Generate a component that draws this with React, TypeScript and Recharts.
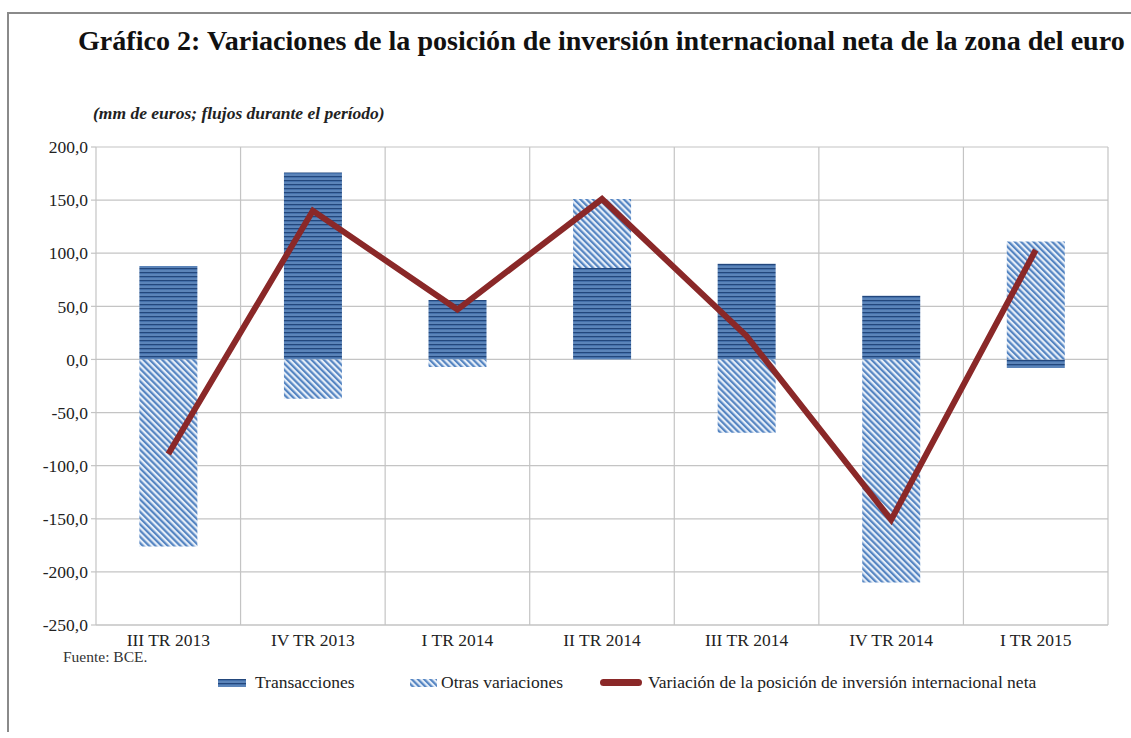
import React from 'react';
import {
  ComposedChart, Bar, Line, XAxis, YAxis, CartesianGrid, Legend,
} from 'recharts';

const categories = ['III TR 2013', 'IV TR 2013', 'I TR 2014', 'II TR 2014', 'III TR 2014', 'IV TR 2014', 'I TR 2015'];
const transacciones = [88, 176, 56, 86, 90, 60, -8];
const otrasVariaciones = [-176, -37, -7, 65, -69, -210, 111];
const variacionNeta = [-89, 140, 47, 151, 22, -151, 103];
const yTicks = [-250, -200, -150, -100, -50, 0, 50, 100, 150, 200];

const data = categories.map((c, i) => ({
  name: c,
  trans: transacciones[i],
  otras: otrasVariaciones[i],
  neta: variacionNeta[i],
}));

const SERIF = '"Liberation Serif", "Times New Roman", serif';
const GRID = '#c4c4c4';
const LINE_COLOR = '#8a2828';

const fmt = (v: number) => v.toFixed(1).replace('.', ',');

const Patterns = () => (
  <svg width={0} height={0} style={{ position: 'absolute' }}>
    <defs>
      <pattern id="pTrans" patternUnits="userSpaceOnUse" width={8} height={4}>
        <rect x={0} y={0} width={8} height={4} fill="#4470aa" />
        <rect x={0} y={0} width={8} height={1} fill="#23477c" />
        <rect x={0} y={2.5} width={8} height={1} fill="#7197c8" />
      </pattern>
      <pattern id="pOtras" patternUnits="userSpaceOnUse" width={4.4} height={8} patternTransform="rotate(-45)">
        <rect x={0} y={0} width={4.4} height={8} fill="#e6eef8" />
        <rect x={0} y={0} width={2.2} height={8} fill="#5585c2" />
      </pattern>
    </defs>
  </svg>
);

const renderLegend = () => (
  <div style={{ position: 'relative', width: 1131, height: 24, fontFamily: SERIF, fontSize: 17.5, color: '#222' }}>
    <svg style={{ position: 'absolute', left: 218, top: 7 }} width={28} height={8}>
      <rect x={0} y={0} width={28} height={8} fill="url(#pTrans)" />
    </svg>
    <span style={{ position: 'absolute', left: 255, top: 0, whiteSpace: 'nowrap' }}>Transacciones</span>
    <svg style={{ position: 'absolute', left: 410, top: 7 }} width={27} height={8}>
      <rect x={0} y={0} width={27} height={8} fill="url(#pOtras)" />
    </svg>
    <span style={{ position: 'absolute', left: 441, top: 0, whiteSpace: 'nowrap' }}>Otras variaciones</span>
    <svg style={{ position: 'absolute', left: 600, top: 7 }} width={42} height={8}>
      <rect x={0} y={0} width={42} height={7} rx={3.5} fill={LINE_COLOR} />
    </svg>
    <span style={{ position: 'absolute', left: 648, top: 0, whiteSpace: 'nowrap' }}>Variación de la posición de inversión internacional neta</span>
  </div>
);

export default function App() {
  return (
    <div style={{ position: 'absolute', left: 0, top: 0, width: 1131, height: 738, background: '#fff', overflow: 'hidden' }}>
      <Patterns />
      <div style={{ position: 'absolute', left: 8, top: 12, width: 1123, height: 2, background: '#8a8a8a' }} />
      <div style={{ position: 'absolute', left: 7, top: 12, width: 2, height: 720, background: '#8a8a8a' }} />
      <div style={{ position: 'absolute', left: 78, top: 25, whiteSpace: 'nowrap', fontFamily: SERIF, fontWeight: 'bold', fontSize: 28.1, color: '#111' }}>
        Gráfico 2: Variaciones de la posición de inversión internacional neta de la zona del euro
      </div>
      <div style={{ position: 'absolute', left: 93, top: 103, whiteSpace: 'nowrap', fontFamily: SERIF, fontWeight: 'bold', fontStyle: 'italic', fontSize: 17.5, color: '#222' }}>
        (mm de euros; flujos durante el período)
      </div>
      <div style={{ position: 'absolute', left: 63, top: 648, whiteSpace: 'nowrap', fontFamily: SERIF, fontSize: 15.5, color: '#333' }}>
        Fuente: BCE.
      </div>
      <div style={{ position: 'absolute', left: 0, top: 0 }}>
        <ComposedChart
          width={1131}
          height={738}
          data={data}
          stackOffset="sign"
          barCategoryGap="30%"
          margin={{ top: 147, right: 23, bottom: 83, left: 0 }}
        >
          <CartesianGrid
            stroke={GRID}
            strokeWidth={1.2}
            verticalCoordinatesGenerator={(props: any) => {
              const off = props.offset;
              const n = categories.length;
              const arr: number[] = [];
              for (let i = 1; i <= n; i++) arr.push(off.left + (off.width * i) / n);
              return arr;
            }}
          />
          <XAxis
            dataKey="name"
            height={30}
            tickLine={false}
            tickSize={0}
            tickMargin={9}
            axisLine={{ stroke: GRID, strokeWidth: 1.2 }}
            tick={{ fontFamily: SERIF, fontSize: 17.5, fill: '#222' }}
            interval={0}
          />
          <YAxis
            width={96}
            domain={[-250, 200]}
            ticks={yTicks}
            tickFormatter={fmt}
            tickSize={5}
            tickMargin={3}
            allowDataOverflow
            tickLine={{ stroke: GRID, strokeWidth: 1.2 }}
            axisLine={{ stroke: GRID, strokeWidth: 1.2 }}
            tick={{ fontFamily: SERIF, fontSize: 17.5, fill: '#222' }}
          />
          <Bar dataKey="trans" name="Transacciones" stackId="a" fill="url(#pTrans)" isAnimationActive={false} />
          <Bar dataKey="otras" name="Otras variaciones" stackId="a" fill="url(#pOtras)" isAnimationActive={false} />
          <Line
            dataKey="neta"
            name="Variación de la posición de inversión internacional neta"
            stroke={LINE_COLOR}
            strokeWidth={6}
            dot={false}
            activeDot={false}
            strokeLinejoin="miter"
            isAnimationActive={false}
          />
          <Legend
            verticalAlign="middle"
            align="center"
            content={renderLegend}
            wrapperStyle={{ left: 0, top: 672, width: 1131, height: 24 }}
          />
        </ComposedChart>
      </div>
    </div>
  );
}
